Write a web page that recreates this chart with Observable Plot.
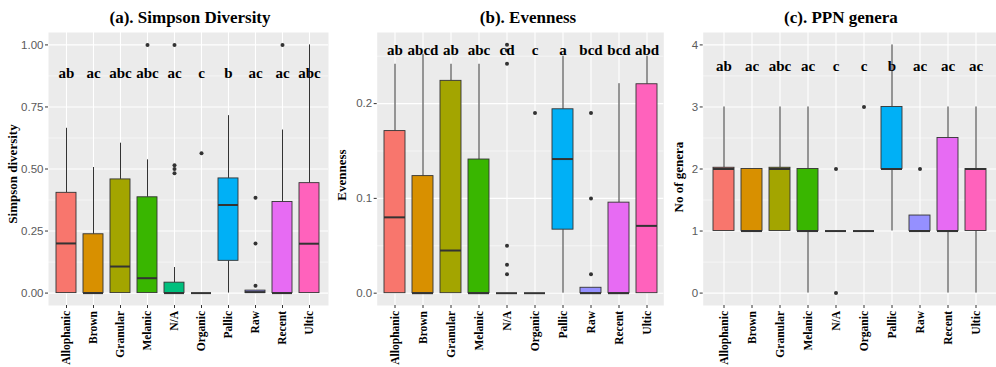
<!DOCTYPE html>
<html>
<head>
<meta charset="utf-8">
<script src="https://cdn.jsdelivr.net/npm/d3@7"></script>
<script src="https://cdn.jsdelivr.net/npm/@observablehq/plot@0.6"></script>
<style>
  html, body { margin: 0; padding: 0; background: #fff; }
  #root { position: relative; width: 996px; height: 367px; overflow: hidden; }
  .panel { position: absolute; top: 0; }
  .title { position: absolute; top: 9px; font-family: "Liberation Serif", serif; font-weight: bold; font-size: 17px; line-height: 17px; white-space: nowrap; transform: translateX(-50%); color: #000; }
  .ytitle { position: absolute; font-family: "Liberation Serif", serif; font-weight: bold; font-size: 13px; line-height: 13px; white-space: nowrap; transform: translate(-50%, -50%) rotate(-90deg); color: #000; }
</style>
</head>
<body>
<div id="root"></div>
<script>
// ---- shared ----
const categories = ["Allophanic","Brown","Granular","Melanic","N/A","Organic","Pallic","Raw","Recent","Ultic"];
const colors = ["#F8766D","#D89000","#A3A500","#39B600","#00BF7D","#00BFC4","#00B0F6","#9590FF","#E76BF3","#FF62BC"];

// ---- (a) Simpson diversity ----
const simpsonLow    = [0, 0, 0, 0, 0, 0, 0, 0, 0, 0];
const simpsonQ1     = [0, 0, 0, 0, 0, 0, 0.13, 0, 0, 0];
const simpsonMedian = [0.20, 0, 0.107, 0.06, 0, 0, 0.355, 0.004, 0, 0.199];
const simpsonQ3     = [0.404, 0.237, 0.458, 0.386, 0.042, 0, 0.462, 0.01, 0.367, 0.443];
const simpsonHigh   = [0.664, 0.506, 0.604, 0.537, 0.103, 0, 0.715, 0.01, 0.657, 1.0];
const simpsonOutCat = ["Melanic","N/A","N/A","N/A","N/A","Organic","Raw","Raw","Raw","Recent"];
const simpsonOutVal = [1.0, 1.0, 0.515, 0.50, 0.483, 0.563, 0.384, 0.20, 0.03, 1.0];
const simpsonLetters = ["ab","ac","abc","abc","ac","c","b","ac","ac","abc"];
const simpsonTicks = [0, 0.25, 0.5, 0.75, 1.0];
const simpsonMinor = [0.125, 0.375, 0.625, 0.875];

// ---- (b) Evenness ----
const evenLow    = [0, 0, 0, 0, 0, 0, 0, 0, 0, 0];
const evenQ1     = [0, 0, 0, 0, 0, 0, 0.067, 0, 0, 0];
const evenMedian = [0.080, 0, 0.045, 0, 0, 0, 0.1415, 0, 0, 0.071];
const evenQ3     = [0.171, 0.1235, 0.224, 0.141, 0, 0, 0.194, 0.0057, 0.0955, 0.2204];
const evenHigh   = [0.2415, 0.252, 0.2415, 0.2415, 0, 0, 0.25, 0.0057, 0.221, 0.25];
const evenOutCat = ["N/A","N/A","N/A","N/A","N/A","N/A","Organic","Raw","Raw","Raw"];
const evenOutVal = [0.05, 0.03, 0.02, 0.242, 0.256, 0.262, 0.19, 0.10, 0.02, 0.19];
const evenLetters = ["ab","abcd","ab","abc","cd","c","a","bcd","bcd","abd"];
const evenTicks = [0, 0.1, 0.2];
const evenMinor = [0.05, 0.15, 0.25];

// ---- (c) PPN genera ----
const generaLow    = [1, 1, 1, 0, 1, 1, 1, 1, 0, 0];
const generaQ1     = [1, 1, 1, 1, 1, 1, 2, 1, 1, 1];
const generaMedian = [2, 1, 2, 1, 1, 1, 2, 1, 1, 2];
const generaQ3     = [2.02, 2, 2.02, 2, 1, 1, 3, 1.25, 2.5, 2];
const generaHigh   = [3, 2, 3, 3, 1, 1, 4, 1.25, 3, 3];
const generaOutCat = ["N/A","N/A","Organic","Raw"];
const generaOutVal = [2, 0, 3, 2];
const generaLetters = ["ab","ac","abc","ac","c","c","b","ac","ac","ac"];
const generaTicks = [0, 1, 2, 3, 4];
const generaMinor = [0.5, 1.5, 2.5, 3.5];

function makePanel(cfg) {
  const table = categories.map((c, i) => ({
    cat: c, low: cfg.low[i], q1: cfg.q1[i], median: cfg.median[i],
    q3: cfg.q3[i], high: cfg.high[i], letter: cfg.letters[i]
  }));
  const outliers = cfg.outCat.map((c, i) => ({cat: c, value: cfg.outVal[i]}));
  return Plot.plot({
    width: cfg.width,
    height: 367,
    marginLeft: cfg.marginLeft,
    marginRight: cfg.marginRight,
    marginTop: 32,
    marginBottom: 62,
    style: {fontFamily: "Liberation Sans", fontSize: "11.5px", background: "transparent", overflow: "visible", color: "#5a5a5a"},
    x: {type: "band", domain: categories, paddingInner: 0.25, paddingOuter: 0.225},
    y: {domain: cfg.domain},
    color: {domain: categories, range: colors},
    marks: [
      Plot.frame({fill: "#EBEBEB", stroke: null}),
      Plot.gridY(cfg.minor, {stroke: "white", strokeOpacity: 1, strokeWidth: 0.55}),
      Plot.gridY(cfg.ticks, {stroke: "white", strokeOpacity: 1, strokeWidth: 1.1}),
      Plot.gridX({stroke: "white", strokeOpacity: 1, strokeWidth: 1.1}),
      Plot.axisY(cfg.ticks, {tickFormat: cfg.format, tickSize: 3, tickPadding: 2, stroke: "#333", fill: "#5a5a5a", fontSize: 11.5, label: null}),
      Plot.axisX({tickRotate: -90, tickSize: 3, tickPadding: 2.5, stroke: "#333", fill: "#000", fontFamily: "Liberation Serif", fontWeight: "bold", fontSize: 11.5, label: null}),
      Plot.ruleX(table, {x: "cat", y1: "low", y2: "q1", stroke: "#333", strokeWidth: 1}),
      Plot.ruleX(table, {x: "cat", y1: "q3", y2: "high", stroke: "#333", strokeWidth: 1}),
      Plot.barY(table, {x: "cat", y1: "q1", y2: "q3", fill: "cat", stroke: "#333", strokeWidth: 0.9}),
      Plot.tickY(table, {x: "cat", y: "median", stroke: "#333", strokeWidth: 2}),
      Plot.dot(outliers, {x: "cat", y: "value", r: 2, fill: "#333", stroke: null}),
      Plot.text(table, {x: "cat", y: () => cfg.letterY, text: "letter", fontFamily: "Liberation Serif", fontWeight: "bold", fontSize: 15, fill: "#000"})
    ]
  });
}

const root = document.getElementById("root");
function addPanel(left, cfg, title, titleX, ytitle, ytX, ytY) {
  const d = document.createElement("div");
  d.className = "panel";
  d.style.left = left + "px";
  d.appendChild(makePanel(cfg));
  root.appendChild(d);
  const t = document.createElement("div");
  t.className = "title"; t.textContent = title; t.style.left = titleX + "px";
  root.appendChild(t);
  const y = document.createElement("div");
  y.className = "ytitle"; y.textContent = ytitle; y.style.left = ytX + "px"; y.style.top = ytY + "px";
  root.appendChild(y);
}

addPanel(0, {
  width: 330, marginLeft: 48, marginRight: 2, domain: [-0.05, 1.05],
  low: simpsonLow, q1: simpsonQ1, median: simpsonMedian, q3: simpsonQ3, high: simpsonHigh,
  outCat: simpsonOutCat, outVal: simpsonOutVal, letters: simpsonLetters, letterY: 0.885,
  ticks: simpsonTicks, minor: simpsonMinor, format: d3.format(".2f")
}, "(a). Simpson Diversity", 190, "Simpson diversity", 12, 174);

addPanel(330, {
  width: 335, marginLeft: 46.7, marginRight: 1.7, domain: [-0.013, 0.275],
  low: evenLow, q1: evenQ1, median: evenMedian, q3: evenQ3, high: evenHigh,
  outCat: evenOutCat, outVal: evenOutVal, letters: evenLetters, letterY: 0.256,
  ticks: evenTicks, minor: evenMinor, format: d3.format(".1f")
}, "(b). Evenness", 528, "Evenness", 341, 175);

addPanel(665, {
  width: 331, marginLeft: 37.7, marginRight: 0, domain: [-0.2, 4.2],
  low: generaLow, q1: generaQ1, median: generaMedian, q3: generaQ3, high: generaHigh,
  outCat: generaOutCat, outVal: generaOutVal, letters: generaLetters, letterY: 3.65,
  ticks: generaTicks, minor: generaMinor, format: d3.format("d")
}, "(c). PPN genera", 841, "No of genera", 678, 177);
</script>
</body>
</html>
